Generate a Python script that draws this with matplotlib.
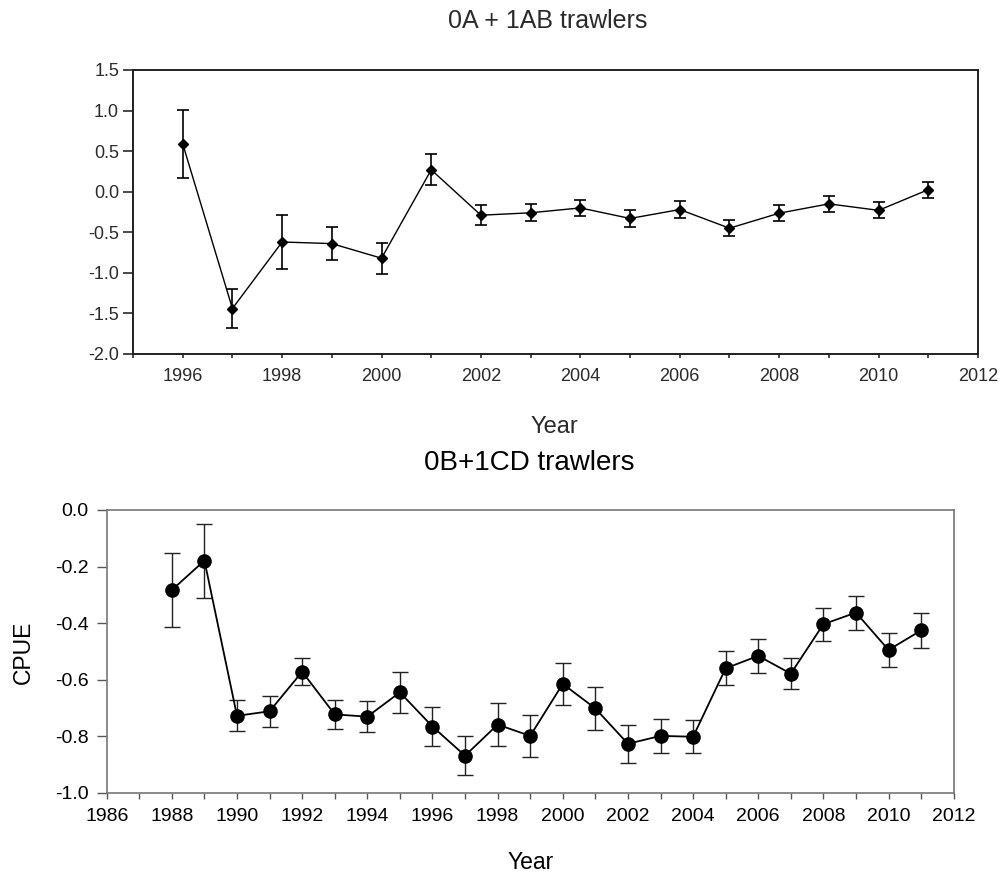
import numpy as np
import matplotlib
matplotlib.use("Agg")
import matplotlib.pyplot as plt
from matplotlib.ticker import MultipleLocator

plt.rcParams["font.family"] = ["Liberation Sans", "DejaVu Sans"]

# 0A + 1AB trawlers
years_top = list(range(1996, 2012))
cpue_top = [0.59, -1.44, -0.62, -0.64, -0.82, 0.27, -0.29, -0.26, -0.20, -0.33,
            -0.22, -0.45, -0.265, -0.15, -0.23, 0.025]
err_top = [0.42, 0.24, 0.33, 0.205, 0.19, 0.19, 0.12, 0.107, 0.10, 0.10,
           0.10, 0.097, 0.096, 0.099, 0.097, 0.10]

# 0B+1CD trawlers
years_bot = list(range(1988, 2012))
cpue_bot = [-0.283, -0.179, -0.728, -0.712, -0.572, -0.723, -0.731, -0.645,
            -0.766, -0.869, -0.759, -0.799, -0.615, -0.702, -0.827, -0.799,
            -0.802, -0.560, -0.516, -0.579, -0.404, -0.363, -0.495, -0.426]
err_bot = [0.131, 0.131, 0.055, 0.055, 0.048, 0.051, 0.056, 0.073,
           0.070, 0.068, 0.076, 0.073, 0.073, 0.077, 0.068, 0.060,
           0.058, 0.060, 0.060, 0.055, 0.058, 0.060, 0.059, 0.061]

fig = plt.figure(figsize=(10, 8.77), dpi=100)

# ---- top panel
grey = "#2a2a2a"
ax1 = fig.add_axes([0.133, 0.5964, 0.845, 0.3238])
ax1.errorbar(years_top, cpue_top, yerr=err_top, fmt="-D", color="black",
             ms=5.5, lw=1.0, elinewidth=1.2, capsize=4.5, capthick=1.2)
ax1.set_xlim(1995, 2012)
ax1.set_ylim(-2.0, 1.5)
ax1.xaxis.set_major_locator(MultipleLocator(2))
ax1.xaxis.set_minor_locator(MultipleLocator(1))
ax1.yaxis.set_major_locator(MultipleLocator(0.5))
ax1.yaxis.set_major_formatter(matplotlib.ticker.FormatStrFormatter("%.1f"))
ax1.tick_params(axis="x", which="both", direction="out", length=3, width=1.2,
                labelsize=13, pad=7, colors=grey)
ax1.tick_params(axis="y", direction="out", length=7, width=1.2,
                labelsize=13, pad=3, colors=grey)
ax1.set_xticks([1996 + 2 * i for i in range(9)])
for s in ax1.spines.values():
    s.set_linewidth(1.4)
    s.set_color("#202020")

fig.text(0.548, 0.9677, "0A + 1AB trawlers", ha="center", va="baseline",
         fontsize=18, color=grey)
fig.text(0.5547, 0.5063, "Year", ha="center", va="baseline",
         fontsize=17, color=grey)

# ---- bottom panel
ax2 = fig.add_axes([0.1067, 0.0961, 0.847, 0.3224])
ax2.errorbar(years_bot, cpue_bot, yerr=err_bot, fmt="-o", color="black",
             ms=9.5, lw=1.3, elinewidth=1.0, capsize=5.5, capthick=1.0,
             ecolor="#222222")
ax2.set_xlim(1986, 2012)
ax2.set_ylim(-1.0, 0.0)
ax2.xaxis.set_major_locator(MultipleLocator(2))
ax2.xaxis.set_minor_locator(MultipleLocator(1))
ax2.yaxis.set_major_locator(MultipleLocator(0.2))
ax2.yaxis.set_major_formatter(matplotlib.ticker.FormatStrFormatter("%.1f"))
ax2.tick_params(axis="x", which="both", direction="out", length=4, width=1.0,
                labelsize=14, pad=7, color="#555555")
ax2.tick_params(axis="y", direction="out", length=7, width=1.0,
                labelsize=14, pad=6, color="#555555")
for s in ax2.spines.values():
    s.set_linewidth(1.2)
    s.set_color("#777777")

fig.text(0.5295, 0.4641, "0B+1CD trawlers", ha="center", va="baseline",
         fontsize=20)
fig.text(0.531, 0.0088, "Year", ha="center", va="baseline", fontsize=16.5)
fig.text(0.023, 0.2566, "CPUE", ha="center", va="center", rotation=90,
         fontsize=16.5)

fig.savefig("out.png", dpi=100)
